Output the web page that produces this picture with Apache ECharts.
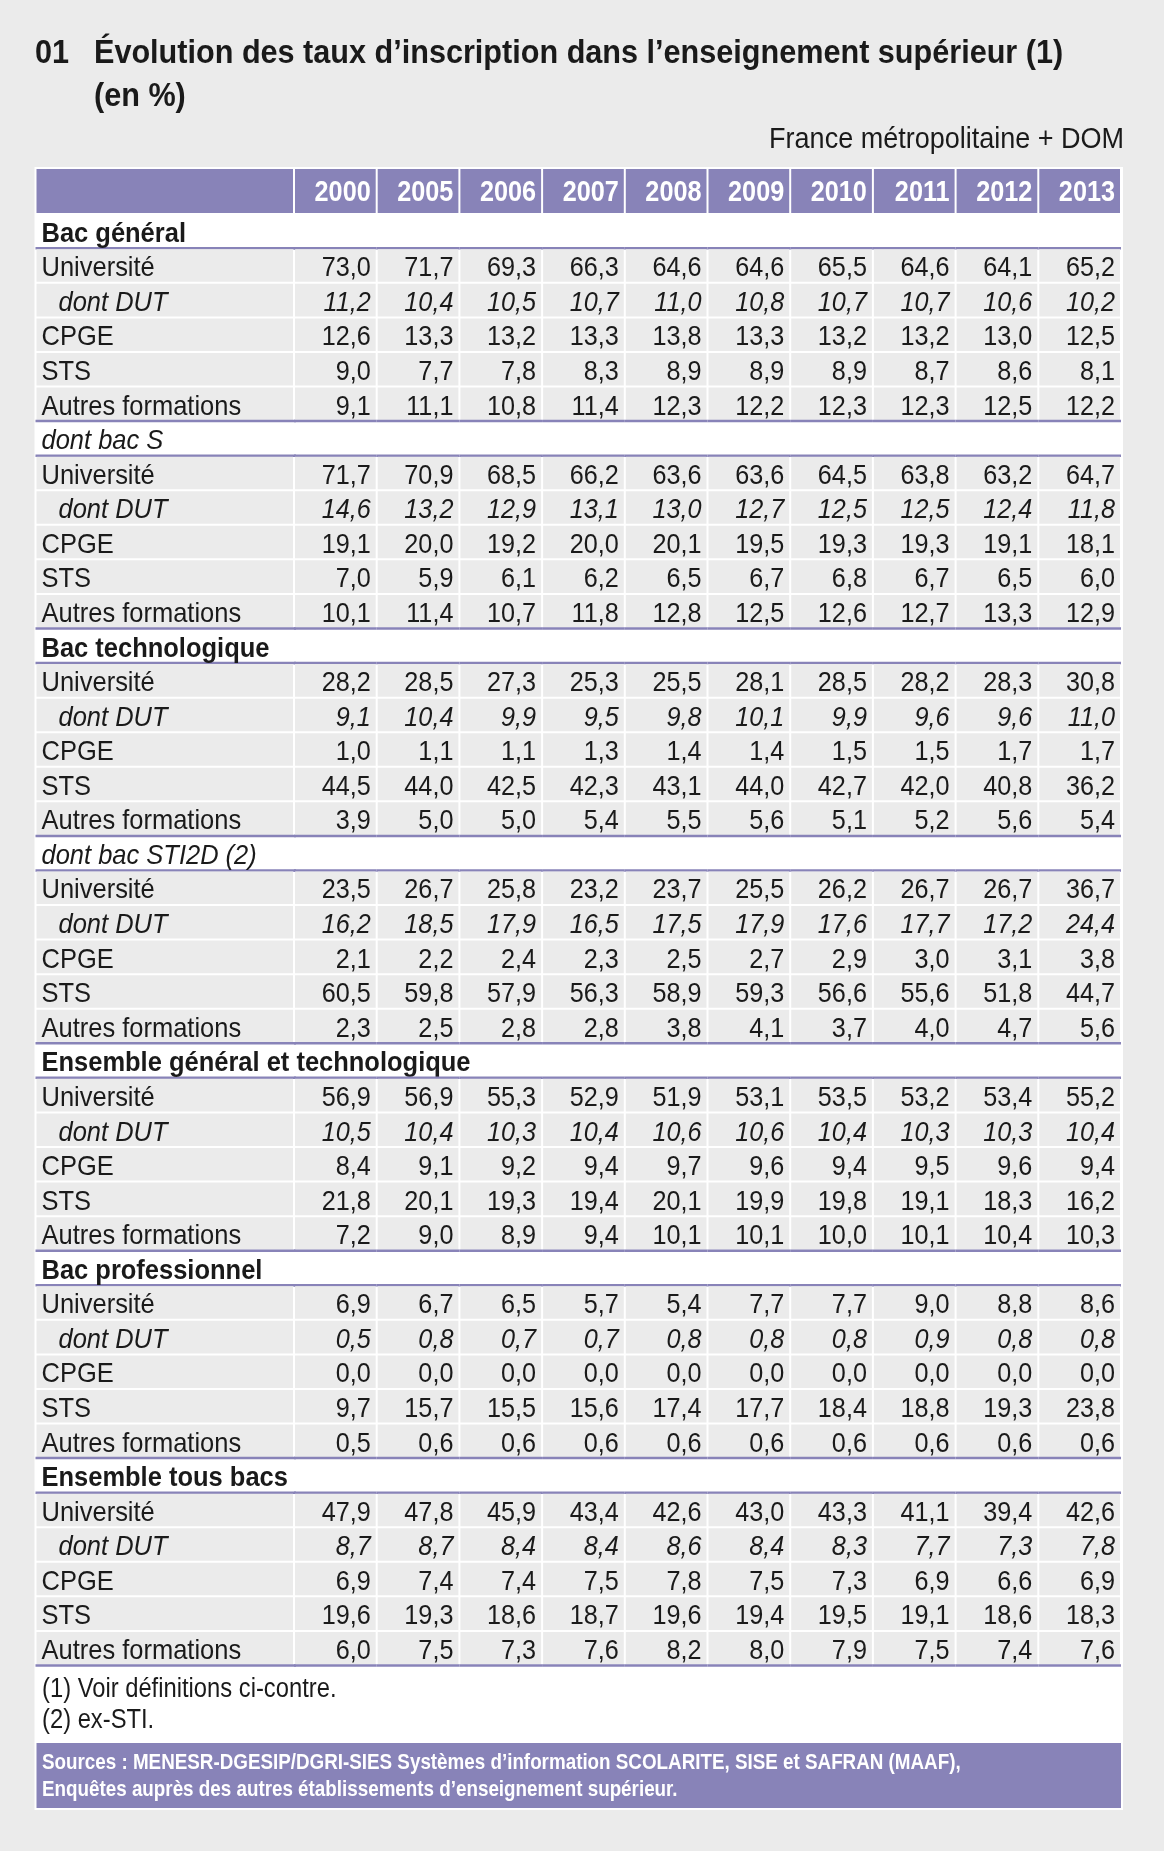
<!DOCTYPE html>
<html>
<head>
<meta charset="utf-8">
<script src="https://cdn.jsdelivr.net/npm/echarts@6/dist/echarts.min.js"></script>
<style>
  html, body { margin: 0; padding: 0; background: #ebebeb; }
  #main { width: 1164px; height: 1851px; }
</style>
</head>
<body>
<div id="main"></div>
<script>
// colonnes et lignes du tableau
var years = ['2000', '2005', '2006', '2007', '2008', '2009', '2010', '2011', '2012', '2013'];
var subRows = ['Université', 'dont DUT', 'CPGE', 'STS', 'Autres formations'];
var sections = ['Bac général', 'dont bac S', 'Bac technologique', 'dont bac STI2D (2)',
                'Ensemble général et technologique', 'Bac professionnel', 'Ensemble tous bacs'];
var italicSections = ['dont bac S', 'dont bac STI2D (2)'];

// valeurs (en %), une ligne par formation
var bacGeneral = [
  [73.0, 71.7, 69.3, 66.3, 64.6, 64.6, 65.5, 64.6, 64.1, 65.2],
  [11.2, 10.4, 10.5, 10.7, 11.0, 10.8, 10.7, 10.7, 10.6, 10.2],
  [12.6, 13.3, 13.2, 13.3, 13.8, 13.3, 13.2, 13.2, 13.0, 12.5],
  [9.0, 7.7, 7.8, 8.3, 8.9, 8.9, 8.9, 8.7, 8.6, 8.1],
  [9.1, 11.1, 10.8, 11.4, 12.3, 12.2, 12.3, 12.3, 12.5, 12.2]
];
var bacS = [
  [71.7, 70.9, 68.5, 66.2, 63.6, 63.6, 64.5, 63.8, 63.2, 64.7],
  [14.6, 13.2, 12.9, 13.1, 13.0, 12.7, 12.5, 12.5, 12.4, 11.8],
  [19.1, 20.0, 19.2, 20.0, 20.1, 19.5, 19.3, 19.3, 19.1, 18.1],
  [7.0, 5.9, 6.1, 6.2, 6.5, 6.7, 6.8, 6.7, 6.5, 6.0],
  [10.1, 11.4, 10.7, 11.8, 12.8, 12.5, 12.6, 12.7, 13.3, 12.9]
];
var bacTechno = [
  [28.2, 28.5, 27.3, 25.3, 25.5, 28.1, 28.5, 28.2, 28.3, 30.8],
  [9.1, 10.4, 9.9, 9.5, 9.8, 10.1, 9.9, 9.6, 9.6, 11.0],
  [1.0, 1.1, 1.1, 1.3, 1.4, 1.4, 1.5, 1.5, 1.7, 1.7],
  [44.5, 44.0, 42.5, 42.3, 43.1, 44.0, 42.7, 42.0, 40.8, 36.2],
  [3.9, 5.0, 5.0, 5.4, 5.5, 5.6, 5.1, 5.2, 5.6, 5.4]
];
var bacSTI2D = [
  [23.5, 26.7, 25.8, 23.2, 23.7, 25.5, 26.2, 26.7, 26.7, 36.7],
  [16.2, 18.5, 17.9, 16.5, 17.5, 17.9, 17.6, 17.7, 17.2, 24.4],
  [2.1, 2.2, 2.4, 2.3, 2.5, 2.7, 2.9, 3.0, 3.1, 3.8],
  [60.5, 59.8, 57.9, 56.3, 58.9, 59.3, 56.6, 55.6, 51.8, 44.7],
  [2.3, 2.5, 2.8, 2.8, 3.8, 4.1, 3.7, 4.0, 4.7, 5.6]
];
var ensembleGT = [
  [56.9, 56.9, 55.3, 52.9, 51.9, 53.1, 53.5, 53.2, 53.4, 55.2],
  [10.5, 10.4, 10.3, 10.4, 10.6, 10.6, 10.4, 10.3, 10.3, 10.4],
  [8.4, 9.1, 9.2, 9.4, 9.7, 9.6, 9.4, 9.5, 9.6, 9.4],
  [21.8, 20.1, 19.3, 19.4, 20.1, 19.9, 19.8, 19.1, 18.3, 16.2],
  [7.2, 9.0, 8.9, 9.4, 10.1, 10.1, 10.0, 10.1, 10.4, 10.3]
];
var bacPro = [
  [6.9, 6.7, 6.5, 5.7, 5.4, 7.7, 7.7, 9.0, 8.8, 8.6],
  [0.5, 0.8, 0.7, 0.7, 0.8, 0.8, 0.8, 0.9, 0.8, 0.8],
  [0.0, 0.0, 0.0, 0.0, 0.0, 0.0, 0.0, 0.0, 0.0, 0.0],
  [9.7, 15.7, 15.5, 15.6, 17.4, 17.7, 18.4, 18.8, 19.3, 23.8],
  [0.5, 0.6, 0.6, 0.6, 0.6, 0.6, 0.6, 0.6, 0.6, 0.6]
];
var ensembleTous = [
  [47.9, 47.8, 45.9, 43.4, 42.6, 43.0, 43.3, 41.1, 39.4, 42.6],
  [8.7, 8.7, 8.4, 8.4, 8.6, 8.4, 8.3, 7.7, 7.3, 7.8],
  [6.9, 7.4, 7.4, 7.5, 7.8, 7.5, 7.3, 6.9, 6.6, 6.9],
  [19.6, 19.3, 18.6, 18.7, 19.6, 19.4, 19.5, 19.1, 18.6, 18.3],
  [6.0, 7.5, 7.3, 7.6, 8.2, 8.0, 7.9, 7.5, 7.4, 7.6]
];
var sectionValues = [bacGeneral, bacS, bacTechno, bacSTI2D, ensembleGT, bacPro, ensembleTous];

// police étroite simulée : Liberation Sans compressée horizontalement
var FONT = '"Liberation Sans", Arial, sans-serif';
var NARROW = 0.9;
var PURPLE = '#8883b8';
var GREY = '#ebebeb';
var INK = '#1a1a1a';

// construction des lignes du tableau
var rowInfo = [];
var labelData = [];
var cellData = [];
sections.forEach(function (sec, si) {
  var r = rowInfo.length;
  rowInfo.push({ label: sec, kind: italicSections.indexOf(sec) >= 0 ? 'secItalic' : 'sec' });
  labelData.push([0, r]);
  years.forEach(function (y, ci) { cellData.push([ci, r, null]); });
  subRows.forEach(function (name, k) {
    var rr = rowInfo.length;
    rowInfo.push({ label: name, kind: name === 'dont DUT' ? 'dut' : 'row' });
    labelData.push([0, rr]);
    sectionValues[si][k].forEach(function (v, ci) { cellData.push([ci, rr, v]); });
  });
});
var rowIds = rowInfo.map(function (d, i) { return String(i); });
var lastRow = rowInfo.length - 1;

function fmt(v) { return v.toFixed(1).replace('.', ','); }

function txt(x, y, text, font, fill, align, sx) {
  return { type: 'text', x: x, y: y, scaleX: sx || NARROW,
    style: { x: 0, y: 0, text: text, font: font, fill: fill, textAlign: align, textVerticalAlign: 'middle' } };
}

function hline(x1, x2, y) {
  return { type: 'line', shape: { x1: x1, y1: y, x2: x2, y2: y }, style: { stroke: PURPLE, lineWidth: 2.5 } };
}

function sectionLines(r, x0, y0, w, h) {
  var out = [];
  if (r > 0) out.push(hline(x0, x0 + w, y0));
  out.push(hline(x0, x0 + w, y0 + h));
  return out;
}

function renderLabel(params, api) {
  var r = api.value(1);
  var info = rowInfo[r];
  var c = api.coord([api.value(0), r]);
  var s = api.size([1, 1]);
  var x0 = c[0] - s[0] / 2, y0 = c[1] - s[1] / 2;
  var children = [];
  var font = '28px ' + FONT, dx = 6;
  if (info.kind === 'sec' || info.kind === 'secItalic') {
    children = children.concat(sectionLines(r, x0, y0, s[0] + 2, s[1]));
    font = (info.kind === 'sec' ? 'bold 28px ' : 'italic 28px ') + FONT;
  } else {
    children.push({ type: 'rect', shape: { x: x0 + 1, y: y0 + 1, width: s[0] - 2, height: s[1] - 2 }, style: { fill: GREY } });
    if (info.kind === 'dut') { font = 'italic 28px ' + FONT; dx = 23; }
    if (r === lastRow) children.push(hline(x0, x0 + s[0] + 2, y0 + s[1]));
  }
  children.push(txt(x0 + dx, c[1] + 3, info.label, font, INK, 'left', 0.91));
  return { type: 'group', children: children };
}

function renderCell(params, api) {
  var ci = api.value(0), r = api.value(1);
  var info = rowInfo[r];
  var c = api.coord([ci, r]);
  var s = api.size([1, 1]);
  var x0 = c[0] - s[0] / 2, y0 = c[1] - s[1] / 2;
  if (info.kind === 'sec' || info.kind === 'secItalic') {
    return { type: 'group', children: sectionLines(r, x0, y0, s[0], s[1]) };
  }
  var v = cellData[params.dataIndex][2];
  var children = [
    { type: 'rect', shape: { x: x0 + 1, y: y0 + 1, width: s[0] - 2, height: s[1] - 2 }, style: { fill: GREY } },
    txt(x0 + s[0] - 6, c[1] + 3, fmt(v), (info.kind === 'dut' ? 'italic ' : '') + '28px ' + FONT, INK, 'right')
  ];
  if (r === lastRow) children.push(hline(x0, x0 + s[0], y0 + s[1]));
  return { type: 'group', children: children };
}

function renderHead(params, api) {
  var c = api.coord([api.value(0), 0]);
  var s = api.size([1, 1]);
  var x0 = c[0] - s[0] / 2, y0 = c[1] - s[1] / 2;
  var children = [{ type: 'rect', shape: { x: x0 + 1, y: y0 + 1, width: s[0] - 2, height: s[1] - 2 }, style: { fill: PURPLE } }];
  if (params.seriesIndex === 1) {
    children.push(txt(x0 + s[0] - 6, c[1] + 2, years[api.value(0)], 'bold 29px ' + FONT, '#ffffff', 'right', 0.87));
  }
  return { type: 'group', children: children };
}

function gtext(x, y, text, font, fill, align, sx) {
  return { type: 'text', x: x, y: y, scaleX: sx || NARROW,
    style: { text: text, font: font, fill: fill, textAlign: align || 'left', textVerticalAlign: 'middle' } };
}

var myChart = echarts.init(document.getElementById('main'), null, { renderer: 'canvas' });

var option = {
  backgroundColor: '#ebebeb',
  animation: false,
  graphic: [
    { type: 'rect', z: -10, shape: { x: 34.5, y: 167, width: 1088.5, height: 1643 }, style: { fill: '#ffffff' } },
    { type: 'rect', z: -5, shape: { x: 36.5, y: 1743, width: 1084.5, height: 65 }, style: { fill: PURPLE } },
    gtext(35, 54, '01', 'bold 34px ' + FONT, INK),
    gtext(94, 54, 'Évolution des taux d’inscription dans l’enseignement supérieur (1)', 'bold 34px ' + FONT, INK),
    gtext(94, 97, '(en %)', 'bold 34px ' + FONT, INK),
    gtext(1124, 140, 'France métropolitaine + DOM', '30px ' + FONT, INK, 'right'),
    gtext(42, 1690, '(1) Voir définitions ci-contre.', '27px ' + FONT, INK, 'left', 0.88),
    gtext(42, 1721, '(2) ex-STI.', '27px ' + FONT, INK, 'left', 0.88),
    gtext(42, 1763, 'Sources : MENESR-DGESIP/DGRI-SIES Systèmes d’information SCOLARITE, SISE et SAFRAN (MAAF),', 'bold 22px ' + FONT, '#ffffff', 'left', 0.855),
    gtext(42, 1790, 'Enquêtes auprès des autres établissements d’enseignement supérieur.', 'bold 22px ' + FONT, '#ffffff', 'left', 0.855)
  ],
  grid: [
    { left: 35.5, top: 168, width: 258.5, height: 46 },
    { left: 294, top: 168, width: 827, height: 46 },
    { left: 35.5, top: 213.7, width: 258.5, height: 1451.8 },
    { left: 294, top: 213.7, width: 827, height: 1451.8 }
  ],
  xAxis: [
    { type: 'category', gridIndex: 0, data: [''], show: false },
    { type: 'category', gridIndex: 1, data: years, show: false },
    { type: 'category', gridIndex: 2, data: [''], show: false },
    { type: 'category', gridIndex: 3, data: years, show: false }
  ],
  yAxis: [
    { type: 'category', gridIndex: 0, data: ['h'], show: false },
    { type: 'category', gridIndex: 1, data: ['h'], show: false },
    { type: 'category', gridIndex: 2, data: rowIds, inverse: true, show: false },
    { type: 'category', gridIndex: 3, data: rowIds, inverse: true, show: false }
  ],
  series: [
    { type: 'custom', xAxisIndex: 0, yAxisIndex: 0, data: [[0, 0]], renderItem: renderHead, silent: true },
    { type: 'custom', xAxisIndex: 1, yAxisIndex: 1, data: years.map(function (y, i) { return [i, 0]; }), renderItem: renderHead, silent: true },
    { type: 'custom', xAxisIndex: 2, yAxisIndex: 2, data: labelData, renderItem: renderLabel, silent: true },
    { type: 'custom', xAxisIndex: 3, yAxisIndex: 3, data: cellData, renderItem: renderCell, silent: true }
  ]
};
myChart.setOption(option);
</script>
</body>
</html>
